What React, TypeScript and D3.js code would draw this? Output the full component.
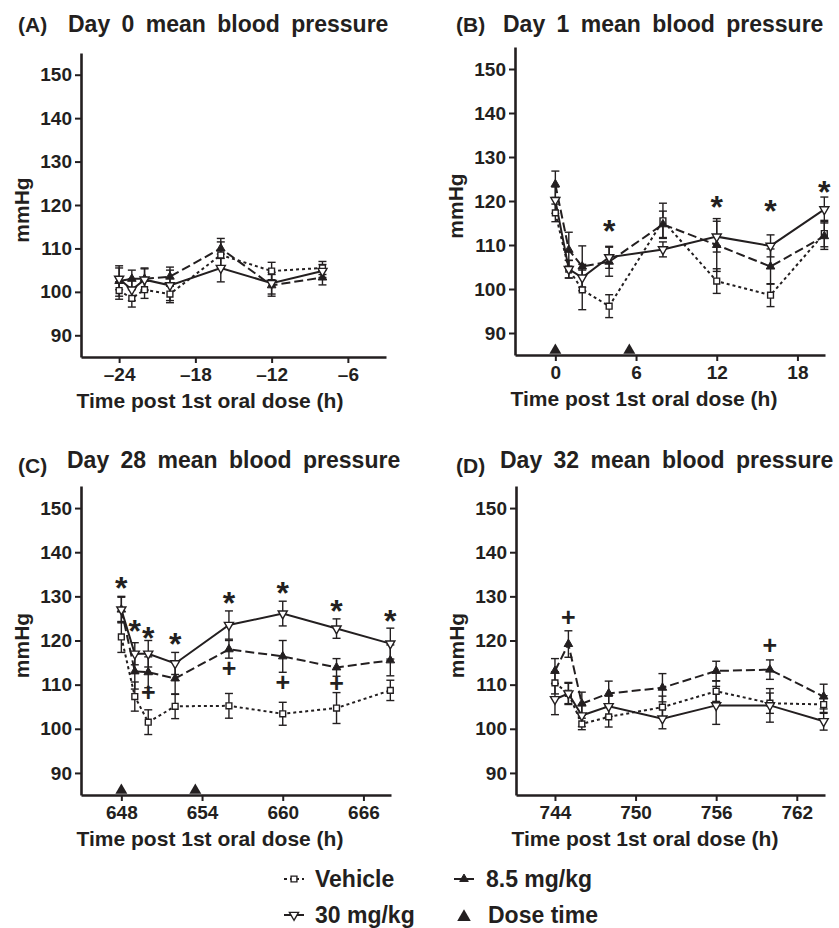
import React, { useEffect, useRef } from 'react';
import * as d3 from 'd3';

const seriesNames = ['Vehicle', '8.5 mg/kg', '30 mg/kg'];
const yTicks = [90, 100, 110, 120, 130, 140, 150];

// (A) day 0
const timeA = [-24, -23, -22, -20, -16, -12, -8];
const vehicleA = [100.3, 98.5, 100.5, 99.5, 108.5, 104.8, 105.5];
const vehicleErrA = [2, 2, 2, 2, 3, 2, 1.5];
const lowA = [102.5, 103, 103, 103.5, 110, 101.5, 103.3];
const lowErrA = [3.5, 2, 2.5, 2.2, 2.3, 2.5, 1.7];
const highA = [103, 100.5, 102.8, 101.5, 105.5, 102, 104.8];
const highErrA = [2.5, 2.5, 2.5, 3.5, 3.2, 2.5, 1.5];
const ticksA = [-24, -18, -12, -6];

// (B) day 1
const timeB = [0, 1, 2, 4, 8, 12, 16, 20];
const vehicleB = [117.3, 104.5, 99.8, 96.1, 115.5, 101.8, 98.6, 112.6];
const vehicleErrB = [2, 2, 4.5, 2.6, 4, 2.8, 2.6, 3];
const lowB = [123.8, 108.9, 105.1, 106.2, 114.7, 110, 105.1, 112];
const lowErrB = [3, 4, 4.7, 3.3, 3, 6, 4, 3];
const highB = [120.2, 104.5, 102.6, 107.2, 109, 111.9, 109.8, 118.1];
const highErrB = [3, 2, 3, 2.5, 1.7, 3.5, 2.5, 2.8];
const ticksB = [0, 6, 12, 18];
const doseB = [0, 5.5];
const starsB = [[4, 114.5], [12, 120], [16, 119], [20, 123.5]];

// (C) day 28
const timeC = [648, 649, 650, 652, 656, 660, 664, 668];
const vehicleC = [120.8, 107.3, 101.5, 105.1, 105.2, 103.4, 104.7, 108.7];
const vehicleErrC = [3.5, 3.3, 2.8, 2.8, 2.8, 2.6, 3.5, 2.3];
const lowC = [127, 113, 112.8, 111.4, 118, 116.4, 113.9, 115.5];
const lowErrC = [3, 4, 3.5, 3.6, 2, 3.6, 2, 3.5];
const highC = [127, 117, 117, 114.8, 123.5, 126.1, 122.7, 119.3];
const highErrC = [2.8, 2.5, 3, 2.5, 3.2, 2.8, 2.2, 3.5];
const ticksC = [648, 654, 660, 666];
const doseC = [648, 653.5];
const starsC = [[648, 133.3], [649, 123.6], [650, 122], [652, 120.5], [656, 129.8], [660, 132.2], [664, 128], [668, 125.8]];
const plusC = [[650, 108], [656, 113.5], [660, 110.3], [664, 110.2]];

// (D) day 32
const timeD = [744, 745, 746, 748, 752, 756, 760, 764];
const vehicleD = [110.4, 108, 101.1, 102.7, 104.9, 108.5, 105.8, 105.5];
const vehicleErrD = [2.5, 2.5, 1.3, 2.3, 2.5, 2.3, 2.3, 2];
const lowD = [113.1, 119.2, 105.7, 108, 109.3, 113.1, 113.4, 107.3];
const lowErrD = [2.8, 3, 2.6, 2.8, 3.2, 2.2, 2.2, 2.8];
const highD = [106.7, 108, 103, 105.1, 102.3, 105.3, 105.3, 101.7];
const highErrD = [3.5, 2.3, 2.5, 2.3, 2.3, 4.3, 3.8, 2];
const ticksD = [744, 750, 756, 762];
const plusD = [[745, 125.2], [760, 118.8]];

const FONT = "'Liberation Sans', Arial, sans-serif";
const INK = '#231f20';

const panels = [
  { label: '(A)', title: 'Day 0 mean blood pressure', time: timeA, vals: [vehicleA, lowA, highA], errs: [vehicleErrA, lowErrA, highErrA],
    ticks: ticksA, xDomain: [-27, -3], left: 81, right: 386, top: 53, bottom: 357, labelX: 18, titleX: 68, labelY: 32, titleY: 32, dose: [], stars: [], plus: [] },
  { label: '(B)', title: 'Day 1 mean blood pressure', time: timeB, vals: [vehicleB, lowB, highB], errs: [vehicleErrB, lowErrB, highErrB],
    ticks: ticksB, xDomain: [-3, 20.05], left: 515, right: 825, top: 47, bottom: 355, labelX: 456, titleX: 503, labelY: 32, titleY: 32, dose: doseB, stars: starsB, plus: [] },
  { label: '(C)', title: 'Day 28 mean blood pressure', time: timeC, vals: [vehicleC, lowC, highC], errs: [vehicleErrC, lowErrC, highErrC],
    ticks: ticksC, xDomain: [645, 668.05], left: 81, right: 391, top: 486, bottom: 795, labelX: 18, titleX: 67, labelY: 473, titleY: 468, dose: doseC, stars: starsC, plus: plusC },
  { label: '(D)', title: 'Day 32 mean blood pressure', time: timeD, vals: [vehicleD, lowD, highD], errs: [vehicleErrD, lowErrD, highErrD],
    ticks: ticksD, xDomain: [741.1, 764.1], left: 516, right: 825, top: 486, bottom: 795, labelX: 456, titleX: 500, labelY: 473, titleY: 468, dose: [], stars: [], plus: plusD },
];

const dashes = ['3,3', '9,4', null];

function drawMarker(sel: any, kind: number, cx: number, cy: number) {
  if (kind === 0) {
    sel.append('path').attr('d', d3.symbol(d3.symbolSquare, 34)())
      .attr('transform', `translate(${cx},${cy})`)
      .attr('fill', '#fff').attr('stroke', INK).attr('stroke-width', 1.4);
  } else if (kind === 1) {
    sel.append('path').attr('d', d3.symbol(d3.symbolTriangle, 32)())
      .attr('transform', `translate(${cx},${cy})`)
      .attr('fill', INK).attr('stroke', INK).attr('stroke-width', 1);
  } else {
    sel.append('path').attr('d', d3.symbol(d3.symbolTriangle, 36)())
      .attr('transform', `translate(${cx},${cy}) rotate(180)`)
      .attr('fill', '#fff').attr('stroke', INK).attr('stroke-width', 1.4);
  }
}

export default function App() {
  const ref = useRef<SVGSVGElement>(null);

  useEffect(() => {
    const svg = d3.select(ref.current);
    svg.selectAll('*').remove();

    panels.forEach(p => {
      const x = d3.scaleLinear().domain(p.xDomain).range([p.left, p.right]);
      const y = d3.scaleLinear().domain([85, 155]).range([p.bottom, p.top]);
      const g = svg.append('g');

      // titles
      g.append('text').attr('x', p.labelX).attr('y', p.labelY).text(p.label)
        .attr('font-size', 21).attr('font-weight', 'bold').attr('font-family', FONT).attr('fill', INK);
      g.append('text').attr('x', p.titleX).attr('y', p.titleY).text(p.title)
        .attr('font-size', 23).attr('font-weight', 'bold').attr('font-family', FONT).attr('fill', INK)
        .attr('word-spacing', 5);

      // axes
      const ya = g.append('g').attr('transform', `translate(${p.left},0)`)
        .call(d3.axisLeft(y).tickValues(yTicks).tickSize(6).tickPadding(3).tickSizeOuter(0));
      const xa = g.append('g').attr('transform', `translate(0,${p.bottom})`)
        .call(d3.axisBottom(x).tickValues(p.ticks).tickSize(6).tickPadding(5).tickSizeOuter(0)
          .tickFormat((d: any) => (d < 0 ? '\u2013' + Math.abs(d) : String(d))));
      [ya, xa].forEach(a => {
        a.attr('font-size', 19).attr('font-family', FONT).attr('font-weight', 'bold');
        a.select('.domain').attr('stroke', INK).attr('stroke-width', 2.6);
        a.selectAll('.tick line').attr('stroke', INK).attr('stroke-width', 2);
        a.selectAll('.tick text').attr('fill', INK);
      });

      g.append('text').attr('transform', `translate(${p.left - 52},${(p.top + p.bottom) / 2 + 5}) rotate(-90)`)
        .attr('text-anchor', 'middle').text('mmHg')
        .attr('font-size', 21).attr('font-weight', 'bold').attr('font-family', FONT).attr('fill', INK);
      g.append('text').attr('x', p.left + 129).attr('y', p.bottom + 51).attr('text-anchor', 'middle')
        .text('Time post 1st oral dose (h)')
        .attr('font-size', 21).attr('font-weight', 'bold').attr('font-family', FONT).attr('fill', INK);

      // dose time
      p.dose.forEach(t => {
        g.append('path').attr('d', d3.symbol(d3.symbolTriangle, 62)())
          .attr('transform', `translate(${x(t)},${p.bottom - 4.6})`).attr('fill', INK);
      });

      // lines
      p.vals.forEach((vals, si) => {
        const line = d3.line<number>().x((_, i) => x(p.time[i])).y(d => y(d));
        g.append('path').attr('d', line(vals)).attr('fill', 'none').attr('stroke', INK)
          .attr('stroke-width', 2).attr('stroke-dasharray', dashes[si]);
      });

      // error bars
      p.vals.forEach((vals, si) => {
        vals.forEach((v, i) => {
          const cx = x(p.time[i]);
          const e = p.errs[si][i];
          const y0 = y(v - e), y1 = y(v + e);
          g.append('line').attr('x1', cx).attr('x2', cx).attr('y1', y0).attr('y2', y1)
            .attr('stroke', INK).attr('stroke-width', 1.4);
          [y0, y1].forEach(yy => g.append('line').attr('x1', cx - 4).attr('x2', cx + 4)
            .attr('y1', yy).attr('y2', yy).attr('stroke', INK).attr('stroke-width', 1.4));
        });
      });

      // markers
      p.vals.forEach((vals, si) => {
        vals.forEach((v, i) => drawMarker(g, si, x(p.time[i]), y(v)));
      });

      p.stars.forEach(([t, v]) => {
        g.append('text').attr('x', x(t)).attr('y', y(v) + 17).attr('text-anchor', 'middle').text('*')
          .attr('font-size', 32).attr('font-weight', 'bold').attr('font-family', FONT).attr('fill', INK);
      });
      p.plus.forEach(([t, v]) => {
        g.append('text').attr('x', x(t)).attr('y', y(v) + 8).attr('text-anchor', 'middle').text('+')
          .attr('font-size', 25).attr('font-weight', 'bold').attr('font-family', FONT).attr('fill', INK);
      });
    });

    // legend
    const lg = svg.append('g');
    const legendItems = [
      { name: seriesNames[0], kind: 0, mx: 294, tx: 315, y: 887 },
      { name: seriesNames[1], kind: 1, mx: 464, tx: 486, y: 887 },
      { name: seriesNames[2], kind: 2, mx: 294, tx: 315, y: 923 },
    ];
    legendItems.forEach(it => {
      lg.append('line').attr('x1', it.mx - 10).attr('x2', it.mx + 10).attr('y1', it.y - 8).attr('y2', it.y - 8)
        .attr('stroke', INK).attr('stroke-width', 2).attr('stroke-dasharray', dashes[it.kind]);
      drawMarker(lg, it.kind, it.mx, it.y - 8);
      lg.append('text').attr('x', it.tx).attr('y', it.y).text(it.name)
        .attr('font-size', 23).attr('font-weight', 'bold').attr('font-family', FONT).attr('fill', INK);
    });
    lg.append('path').attr('d', d3.symbol(d3.symbolTriangle, 80)())
      .attr('transform', `translate(464,${923 - 6})`).attr('fill', INK);
    lg.append('text').attr('x', 488).attr('y', 923).text('Dose time')
      .attr('font-size', 23).attr('font-weight', 'bold').attr('font-family', FONT).attr('fill', INK);
  }, []);

  return (
    <svg ref={ref} width={839} height={928}
      style={{ position: 'absolute', left: 0, top: 0, background: '#fff' }} />
  );
}
